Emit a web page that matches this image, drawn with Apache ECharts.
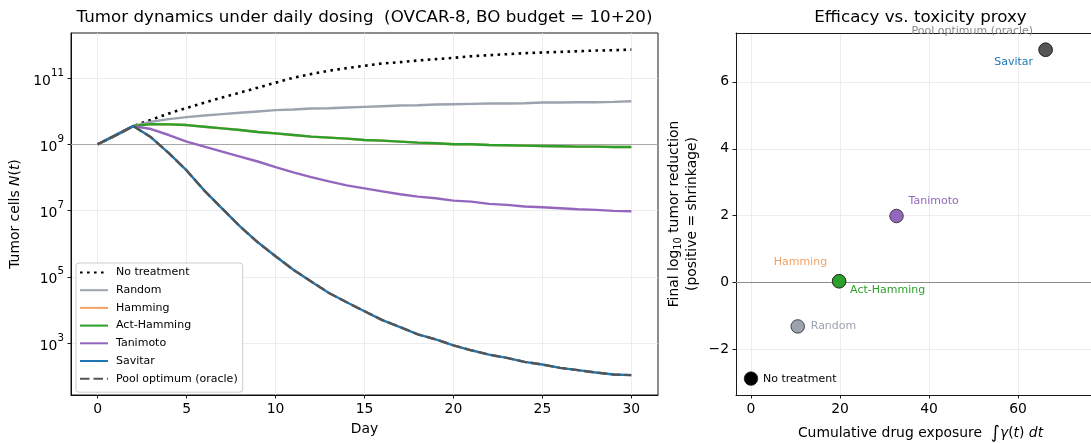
<!DOCTYPE html>
<html><head><meta charset="utf-8">
<script src="https://cdn.jsdelivr.net/npm/echarts@6/dist/echarts.min.js"></script>
<style>html,body{margin:0;padding:0;background:#fff}#c{width:1091px;height:443px}</style>
</head><body><div id="c"></div>
<script>
// ---------- data (left panel: log10 of tumor cells per day) ----------
const days = [0,1,2,3,4,5,6,7,8,9,10,11,12,13,14,15,16,17,18,19,20,21,22,23,24,25,26,27,28,29,30];
const logNoTreatment = [9.00,9.27,9.55,9.74,9.93,10.10,10.26,10.41,10.56,10.71,10.86,11.01,11.12,11.22,11.30,11.37,11.44,11.48,11.53,11.57,11.61,11.66,11.69,11.72,11.75,11.77,11.79,11.81,11.83,11.84,11.86];
const logRandom      = [9.00,9.27,9.55,9.68,9.76,9.82,9.87,9.91,9.95,9.99,10.03,10.05,10.08,10.09,10.11,10.13,10.15,10.17,10.18,10.20,10.21,10.22,10.23,10.23,10.24,10.26,10.26,10.27,10.27,10.28,10.30];
const logHamming     = [9.00,9.27,9.55,9.61,9.60,9.58,9.53,9.48,9.43,9.37,9.33,9.28,9.23,9.20,9.17,9.13,9.11,9.08,9.05,9.03,9.00,9.00,8.98,8.97,8.96,8.95,8.94,8.93,8.93,8.92,8.92];
const logActHamming  = [9.00,9.27,9.55,9.61,9.60,9.58,9.53,9.48,9.43,9.37,9.33,9.28,9.23,9.20,9.17,9.13,9.11,9.08,9.05,9.03,9.00,9.00,8.98,8.97,8.96,8.95,8.94,8.93,8.93,8.92,8.92];
const logTanimoto    = [9.00,9.27,9.55,9.46,9.28,9.08,8.93,8.78,8.63,8.48,8.31,8.15,8.01,7.88,7.76,7.67,7.58,7.49,7.42,7.37,7.30,7.27,7.20,7.17,7.12,7.10,7.07,7.04,7.02,6.99,6.98];
const logSavitar     = [9.00,9.27,9.55,9.21,8.73,8.21,7.60,7.06,6.52,6.04,5.62,5.21,4.86,4.51,4.23,3.96,3.69,3.48,3.26,3.11,2.93,2.78,2.65,2.55,2.43,2.35,2.25,2.18,2.11,2.05,2.03];
const logPoolOptimum = [9.00,9.27,9.55,9.21,8.73,8.21,7.60,7.06,6.52,6.04,5.62,5.21,4.86,4.51,4.23,3.96,3.69,3.48,3.26,3.11,2.93,2.78,2.65,2.55,2.43,2.35,2.25,2.18,2.11,2.05,2.03];
const baselineCells = 1e9;
const xTicksLeft = [0,5,10,15,20,25,30];
const yTicksLeft = [1e3,1e5,1e7,1e9,1e11];

// ---------- data (right panel) ----------
const methods   = ['No treatment','Random','Hamming','Act-Hamming','Tanimoto','Savitar','Pool optimum (oracle)'];
const exposure  = [0.0, 10.5, 19.8, 19.8, 32.7, 66.2, 66.2];
const reduction = [-2.87, -1.31, 0.04, 0.04, 1.99, 6.96, 6.96];
const xTicksRight = [0,20,40,60];
const yTicksRight = [-2,0,2,4,6];

// ---------- styles ----------
const FONT = 'DejaVu Sans';
const FS = 13.9;
const colors = {
  'No treatment':'#000000','Random':'#9ca3af','Hamming':'#f4a261','Act-Hamming':'#2ca02c',
  'Tanimoto':'#9467bd','Savitar':'#1f77b4','Pool optimum (oracle)':'#555555'
};
const labelColors = {
  'No treatment':'#000000','Random':'#9ca3af','Hamming':'#f4a261','Act-Hamming':'#2ca02c',
  'Tanimoto':'#9467bd','Savitar':'#1f77b4','Pool optimum (oracle)':'#888888'
};
const labelPlace = {
  'No treatment':{align:'left',offset:[12,1]},
  'Random':{align:'left',offset:[13,0]},
  'Hamming':{align:'right',offset:[-12,-19]},
  'Act-Hamming':{align:'left',offset:[11,9]},
  'Tanimoto':{align:'left',offset:[12,-15]},
  'Savitar':{align:'right',offset:[-12.5,12]},
  'Pool optimum (oracle)':{align:'right',offset:[-12.5,-19]}
};
const lineDefs = [
  ['No treatment', logNoTreatment, {width:2.6, type:[2.6,4.4], cap:'butt'}],
  ['Random', logRandom, {width:2.4}],
  ['Hamming', logHamming, {width:2.4}],
  ['Act-Hamming', logActHamming, {width:2.4}],
  ['Tanimoto', logTanimoto, {width:2.4}],
  ['Savitar', logSavitar, {width:2.4}],
  ['Pool optimum (oracle)', logPoolOptimum, {width:2.4, type:[9.5,4], cap:'butt'}]
];

const axisLineStyle = {color:'#000', width:0.9};
const gridLine = {show:true, lineStyle:{color:'#e8e8e8', width:0.8}};
const tickLabel = {color:'#000', fontSize:FS, fontFamily:FONT};

const lineSeries = lineDefs.map(([name, logs, ls], k) => {
  const s = {
    name, type:'line', xAxisIndex:0, yAxisIndex:0, showSymbol:false, symbol:'none',
    smooth:false, animation:false, z: 3 + k,
    data: days.map((d,i) => [d, Math.pow(10, logs[i])]),
    lineStyle: Object.assign({color: colors[name]}, ls),
    itemStyle: {color: colors[name]}
  };
  if (k === 0) {
    s.markLine = {silent:true, symbol:'none', animation:false, label:{show:false},
      lineStyle:{color:'#a8a8a8', width:1.2, type:'solid'}, data:[{yAxis: baselineCells}]};
  }
  return s;
});

const scatterSeries = {
  type:'scatter', xAxisIndex:1, yAxisIndex:1, symbolSize:13.5, animation:false, z:5,
  itemStyle:{borderColor:'#222', borderWidth:0.8, opacity:1},
  data: methods.map((m,i) => ({
    name:m, value:[exposure[i], reduction[i]],
    itemStyle:{color: colors[m]},
    label:{show:true, formatter:m, position:'inside', color: labelColors[m],
      fontSize:11, fontFamily:FONT, verticalAlign:'middle',
      align: labelPlace[m].align, offset: labelPlace[m].offset}
  })),
  markLine:{silent:true, symbol:'none', animation:false, label:{show:false},
    lineStyle:{color:'#8c8c8c', width:1, type:'solid'}, data:[{yAxis:0}]}
};

const option = {
  animation:false,
  backgroundColor:'#fff',
  textStyle:{fontFamily:FONT},
  title:[
    {text:'Tumor dynamics under daily dosing  (OVCAR-8, BO budget = 10+20)', left:364.5, top:9, padding:0,
     textAlign:'center', textStyle:{fontFamily:FONT, fontSize:16.7, fontWeight:'normal', color:'#000'}},
    {text:'Efficacy vs. toxicity proxy', left:920.5, top:9, padding:0,
     textAlign:'center', textStyle:{fontFamily:FONT, fontSize:16.7, fontWeight:'normal', color:'#000'}}
  ],
  legend:{
    data: methods, orient:'vertical', left:76, top:263, selectedMode:false,
    itemWidth:28, itemHeight:10, itemGap:6.7, padding:[4,5,8,3],
    itemStyle:{opacity:0},
    backgroundColor:'rgba(255,255,255,0.85)', borderColor:'#cccccc', borderWidth:1, borderRadius:3,
    textStyle:{fontFamily:FONT, fontSize:11, color:'#000', padding:[0,0,0,3]}
  },
  grid:[
    {left:71, top:33, width:587, height:362, show:true, borderColor:'#000', borderWidth:0.9,
     backgroundColor:'transparent', containLabel:false, outerBoundsMode:'none'},
    {left:736, top:33, width:355, height:362, show:false, containLabel:false, outerBoundsMode:'none'}
  ],
  xAxis:[
    {gridIndex:0, type:'value', min:-1.5, max:31.5,
     axisLine:{show:true, onZero:false, lineStyle:axisLineStyle},
     axisTick:{show:true, customValues:xTicksLeft, length:3.5, lineStyle:axisLineStyle},
     axisLabel:Object.assign({customValues:xTicksLeft, margin:7}, tickLabel),
     splitLine:gridLine,
     name:'Day', nameLocation:'middle', nameGap:27,
     nameTextStyle:{fontFamily:FONT, fontSize:FS, color:'#000'}},
    {gridIndex:1, type:'value', min:-3.37, max:76.4,
     axisLine:{show:true, onZero:false, lineStyle:axisLineStyle},
     axisTick:{show:true, customValues:xTicksRight, length:3.5, lineStyle:axisLineStyle},
     axisLabel:Object.assign({customValues:xTicksRight, margin:7}, tickLabel),
     splitLine:gridLine,
     name:'{n|Cumulative drug exposure  }{g|∫}{i|γ}{n|(}{i|t}{n|) }{i|dt}', nameLocation:'middle', nameGap:29,
     nameTextStyle:{fontFamily:FONT, fontSize:FS, color:'#000', padding:[0,0,0,14],
       rich:{n:{fontFamily:FONT, fontSize:FS, color:'#000'},
             i:{fontFamily:FONT, fontSize:FS, color:'#000', fontStyle:'italic'},
             g:{fontFamily:FONT, fontSize:17.5, color:'#000'}}}},
    {gridIndex:1, type:'value', min:-3.37, max:76.4, position:'top',
     axisLine:{show:true, onZero:false, lineStyle:axisLineStyle},
     axisTick:{show:false}, axisLabel:{show:false}, splitLine:{show:false}}
  ],
  yAxis:[
    {gridIndex:0, type:'log', logBase:10, min:Math.pow(10,1.43), max:Math.pow(10,12.36),
     axisLine:{show:true, onZero:false, lineStyle:axisLineStyle},
     axisTick:{show:true, customValues:yTicksLeft, length:3.5, lineStyle:axisLineStyle},
     axisLabel:{customValues:yTicksLeft, margin:7,
       formatter: v => '{b|10}{s|' + Math.round(Math.log10(v)) + '}',
       rich:{b:{fontFamily:FONT, fontSize:FS, color:'#000', lineHeight:20, verticalAlign:'bottom'},
             s:{fontFamily:FONT, fontSize:10.3, color:'#000', lineHeight:20, verticalAlign:'top'}}},
     splitLine:gridLine,
     name:'{n|Tumor cells }{i|N}{n|(}{i|t}{n|)}', nameLocation:'middle', nameGap:45,
     nameTextStyle:{fontFamily:FONT, fontSize:FS, color:'#000',
       rich:{n:{fontFamily:FONT, fontSize:FS, color:'#000'},
             i:{fontFamily:FONT, fontSize:FS, color:'#000', fontStyle:'italic'}}}},
    {gridIndex:1, type:'value', min:-3.36, max:7.46,
     axisLine:{show:true, onZero:false, lineStyle:axisLineStyle},
     axisTick:{show:true, customValues:yTicksRight, length:3.5, lineStyle:axisLineStyle},
     axisLabel:Object.assign({customValues:yTicksRight, margin:7,
       formatter: v => (v < 0 ? '\u2212' + Math.abs(v) : String(v))}, tickLabel),
     splitLine:gridLine,
     name:'{n|Final log}{s|10}{n| tumor reduction}\n{n|(positive = shrinkage)}', nameLocation:'middle', nameGap:35,
     nameTextStyle:{fontFamily:FONT, fontSize:FS, color:'#000', lineHeight:17.5,
       rich:{n:{fontFamily:FONT, fontSize:FS, color:'#000', lineHeight:17.5},
             s:{fontFamily:FONT, fontSize:9.8, color:'#000', lineHeight:17.5, verticalAlign:'bottom'}}}}
  ],
  series: lineSeries.concat([scatterSeries])
};

const chart = echarts.init(document.getElementById('c'), null, {renderer:'canvas'});
chart.setOption(option);
</script>
</body></html>
